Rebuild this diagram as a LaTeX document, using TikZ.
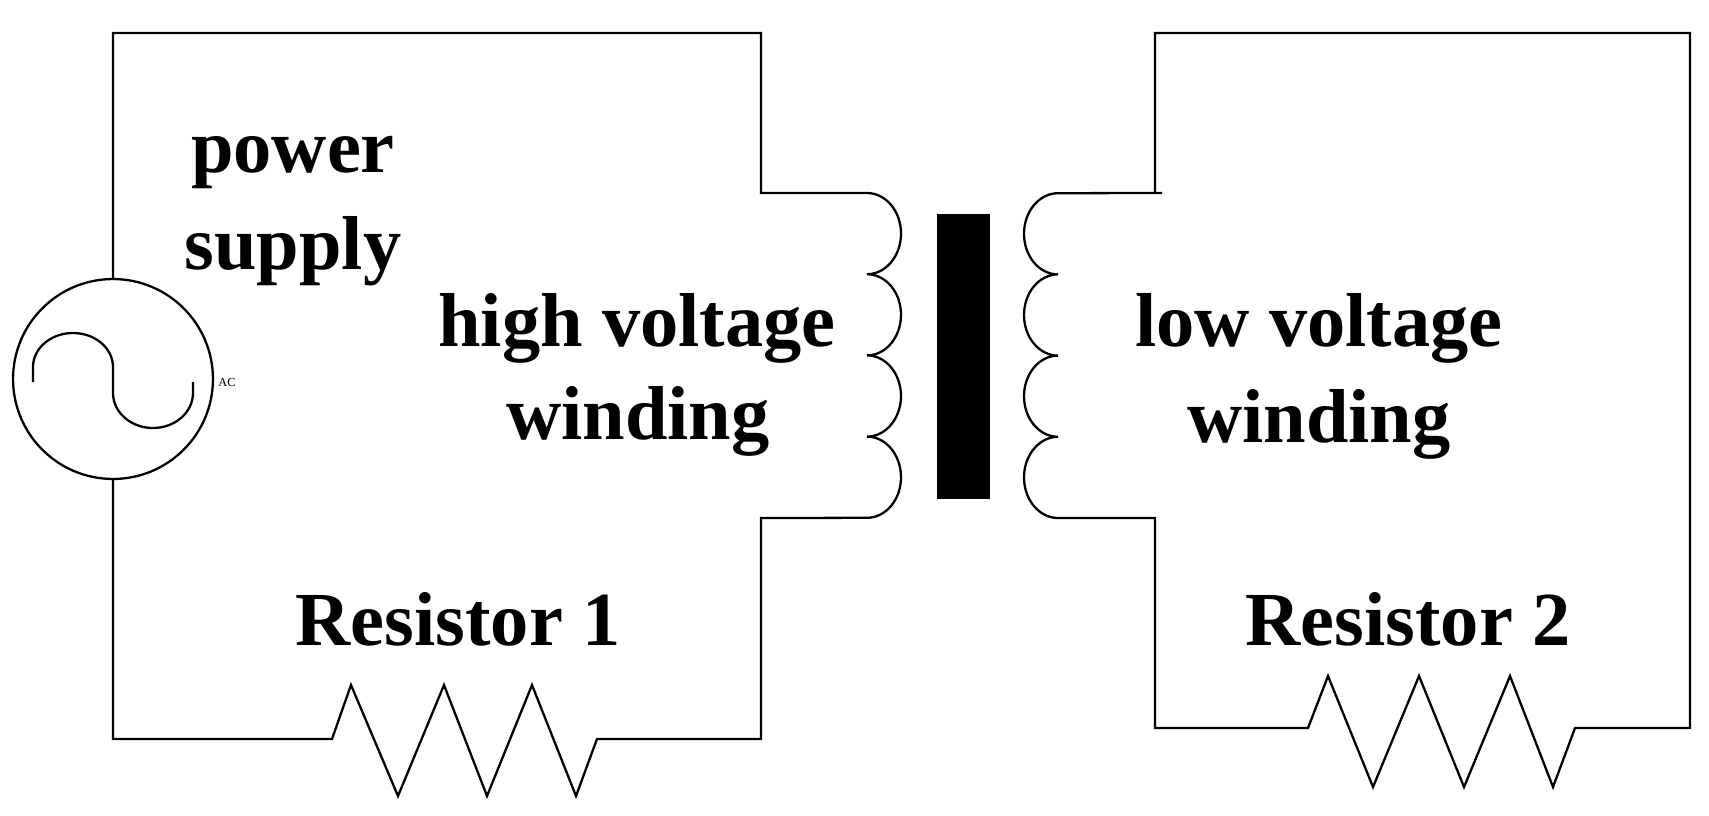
\documentclass[tikz,border=0pt]{standalone}
\usepackage{fontspec}
\setmainfont{Liberation Serif}
\begin{document}
\begin{tikzpicture}[x=0.02cm,y=-0.02cm,line width=1.3pt,
  lbl/.style={font=\bfseries\fontsize{43.5}{46}\selectfont,inner sep=0pt}]
\useasboundingbox (0,0) rectangle (1709,815);
% left loop
\node[circle,draw,minimum size=0.04cm*100,inner sep=0pt] (src) at (113,379) {};
\draw (src.north) -- (113,33) -- (761,33) -- (761,193) -- (867,193)
  arc[start angle=-90,end angle=90,x radius=34,y radius=40.6]
  arc[start angle=-90,end angle=90,x radius=34,y radius=40.6]
  arc[start angle=-90,end angle=90,x radius=34,y radius=40.6]
  arc[start angle=-90,end angle=90,x radius=34,y radius=40.6]
  -- (761,518) -- (761,739) -- (597,739) -- (576,796) -- (532,685) -- (487,796) -- (444,685) -- (398,796) -- (351,685) -- (332,739) -- (113,739) -- (src.south);
\draw (33,382) -- (33,367) arc[start angle=180,end angle=360,x radius=40,y radius=34]
  -- (113,393) arc[start angle=180,end angle=0,x radius=40,y radius=35] -- (193,382);
\node[font=\fontsize{7}{8}\selectfont,inner sep=0pt] (ac) at (227,382) {AC};
% core
\fill (937,214) rectangle (990,499);
% right loop
\draw (1155,193) -- (1155,33) -- (1690,33) -- (1690,728) -- (1575,728) -- (1553,787) -- (1510,676) -- (1464,787) -- (1419,676) -- (1373,787) -- (1328,676) -- (1308,728) -- (1155,728) -- (1155,518) -- (1058,518)
  arc[start angle=90,end angle=270,x radius=34,y radius=40.6]
  arc[start angle=90,end angle=270,x radius=34,y radius=40.6]
  arc[start angle=90,end angle=270,x radius=34,y radius=40.6]
  arc[start angle=90,end angle=270,x radius=34,y radius=40.6]
  -- (1162,193);
% labels
\node[lbl] (ps1) at (293,163) {power};
\node[lbl] (ps2) at (293,251) {supply};
\node[lbl] (hv1) at (637,328) {high voltage};
\node[lbl] (hv2) at (638,421) {winding};
\node[lbl] (lv1) at (1319,328) {low voltage};
\node[lbl] (lv2) at (1319,424) {winding};
\node[lbl] (r1) at (458,619) {Resistor 1};
\node[lbl] (r2) at (1408,619) {Resistor 2};
\end{tikzpicture}
\end{document}
